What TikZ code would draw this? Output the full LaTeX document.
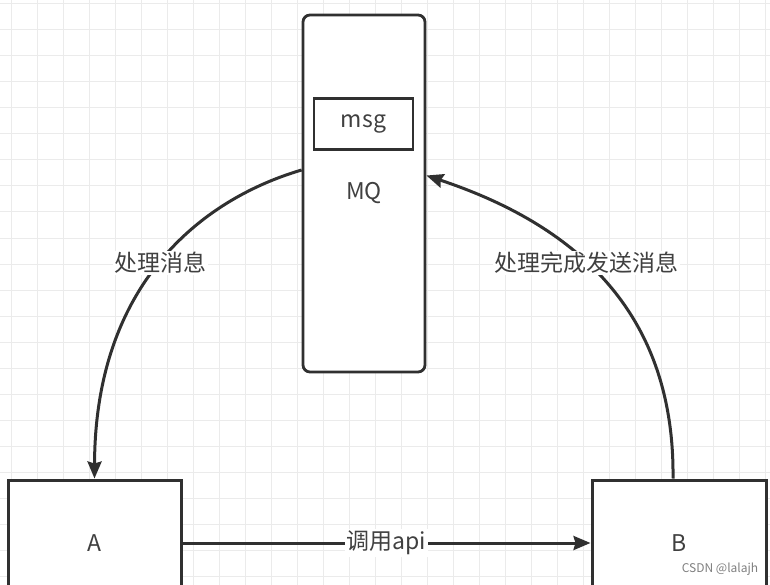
\documentclass[tikz,border=0pt]{standalone}
\usepackage{fontspec}
\setmainfont{Noto Sans CJK SC}
\usetikzlibrary{arrows.meta}
\definecolor{gridc}{HTML}{EBEBEB}
\definecolor{linec}{HTML}{303030}
\definecolor{textc}{HTML}{404040}
\begin{document}
\begin{tikzpicture}[x=1pt,y=-1pt,
  box/.style={draw=linec,line width=3pt,fill=white,text=textc,font=\fontsize{23}{27}\selectfont},
  conn/.style={draw=linec,line width=3pt,-{Stealth[length=17pt,width=14pt,inset=2pt]}},
  lbl/.style={fill=white,text=textc,inner sep=1.5pt,font=\fontsize{23}{27}\selectfont}]
\clip (0,0) rectangle (770,585);
\fill[white] (0,0) rectangle (770,585);
\foreach \x in {11,37,...,770} \draw[gridc,line width=1pt] (\x,0) -- (\x,585);
\foreach \y in {4,30,...,585} \draw[gridc,line width=1pt] (0,\y) -- (770,\y);

\node[box,rounded corners=7pt,line width=2.8pt,minimum width=122pt,minimum height=357pt] (MQ) at (364,193.5) {MQ};
\node[box,line width=2.8pt,minimum width=99pt,minimum height=51pt,inner sep=0pt] (msg) at (363.5,124) {msg};
\node[box,minimum width=173pt,minimum height=126pt] (A) at (94.5,543) {A};
\node[box,minimum width=174pt,minimum height=126pt] (B) at (679,543) {B};

\draw[conn] ([yshift=23.5pt]MQ.west) .. controls (200,200) and (95,285) .. node[lbl,pos=0.5] {处理消息} (A.north);
\draw[conn] ([xshift=-6pt]B.north) .. controls (675,300) and (560,220) .. node[lbl,pos=0.55] {处理完成发送消息} ([yshift=18pt]MQ.east);
\draw[conn] (A.east) -- node[lbl] {调用api} (B.west);

\node[text=gray,font=\fontsize{12}{14}\selectfont,inner sep=0pt] (wm) at (720,569) {CSDN @lalajh};
\end{tikzpicture}
\end{document}
